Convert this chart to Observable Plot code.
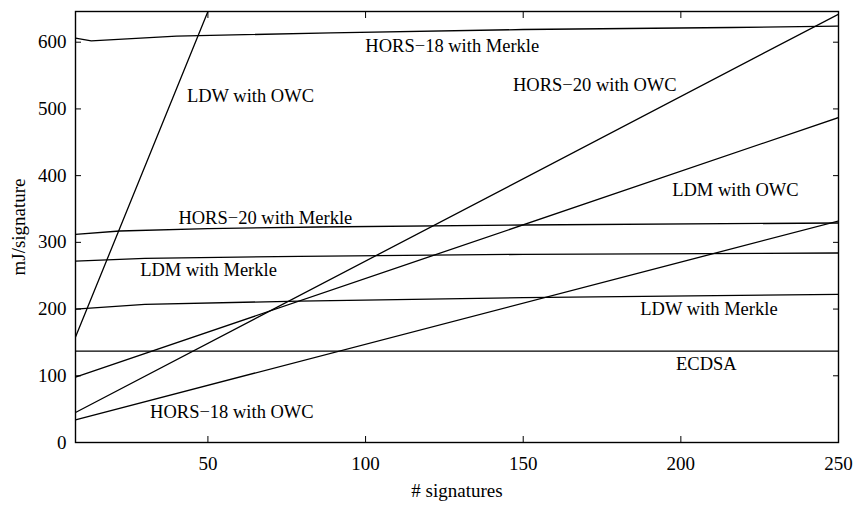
<!DOCTYPE html>
<html><head><meta charset="utf-8">
<script src="https://cdn.jsdelivr.net/npm/d3@7"></script>
<script src="https://cdn.jsdelivr.net/npm/@observablehq/plot@0.6"></script>
<style>body{margin:0;background:#fff} svg, svg text{font-family:"Liberation Serif",serif !important}</style>
</head><body><div id="chart"></div>
<script>
const xTicks = [50, 100, 150, 200, 250];
const yTicks = [0, 100, 200, 300, 400, 500, 600];

// series: [x, y] points
const hors18Merkle = [[8,606],[13,602],[40,609],[89,614],[150,619],[216,622],[250,624]];
const hors20Merkle = [[8,312],[22,317],[50,320.5],[85,323],[150,326],[250,329]];
const ldmMerkle    = [[8,272],[30,276],[79,279],[150,282],[250,284]];
const ldwMerkle    = [[8,200],[30,207],[79,212],[150,217],[250,222]];
const ecdsa        = [[8,137],[250,137]];
const ldwOwc       = [[8,158],[50,646]];
const hors20Owc    = [[8,45],[250,642]];
const ldmOwc       = [[8,98],[250,487]];
const hors18Owc    = [[8,34],[250,332]];

const seriesNames = ["HORS-18 with Merkle","HORS-20 with Merkle","LDM with Merkle","LDW with Merkle","ECDSA","LDW with OWC","HORS-20 with OWC","LDM with OWC","HORS-18 with OWC"];
const seriesData = [hors18Merkle,hors20Merkle,ldmMerkle,ldwMerkle,ecdsa,ldwOwc,hors20Owc,ldmOwc,hors18Owc];

const labelText = ["HORS\u221218 with Merkle","LDW with OWC","HORS\u221220 with OWC","LDM with OWC","HORS\u221220 with Merkle","LDM with Merkle","LDW with Merkle","ECDSA","HORS\u221218 with OWC"];
const labelX = [127.5, 63.5, 172.7, 217.3, 68.2, 50.2, 208.9, 208.1, 57.6];
const labelY = [594, 519, 535.5, 378, 337, 258, 200.5, 118, 45.5];

const rows = [];
seriesData.forEach((pts, i) => pts.forEach(([x, y]) => rows.push({series: seriesNames[i], x, y})));
const labels = labelText.map((text, i) => ({text, x: labelX[i], y: labelY[i]}));

const font = {fontFamily: "Liberation Serif", fontSize: 19};
const blank = () => "";
const chart = Plot.plot({
  width: 858, height: 505,
  marginLeft: 75, marginRight: 20, marginTop: 11, marginBottom: 63,
  style: {fontFamily: "'Liberation Serif', serif", fontSize: "19px", background: "#fff", color: "#000"},
  x: {domain: [8, 250]},
  y: {domain: [0, 646]},
  marks: [
    Plot.axisX(xTicks, {anchor: "bottom", tickSize: 0, tickPadding: 14, label: "# signatures", labelAnchor: "center", labelOffset: 54, labelArrow: false, ...font}),
    Plot.axisX(xTicks, {anchor: "bottom", tickSize: -6, tickFormat: blank, label: null}),
    Plot.axisX(xTicks, {anchor: "top", tickSize: -6, tickFormat: blank, label: null}),
    Plot.axisY(yTicks, {anchor: "left", tickSize: 0, tickPadding: 9, label: "mJ/signature", labelAnchor: "center", labelOffset: 64, labelArrow: false, ...font}),
    Plot.axisY(yTicks, {anchor: "left", tickSize: -6, tickFormat: blank, label: null}),
    Plot.axisY(yTicks, {anchor: "right", tickSize: -6, tickFormat: blank, label: null}),
    Plot.line(rows, {x: "x", y: "y", z: "series", curve: "linear", stroke: "#000", strokeWidth: 1.3, clip: true}),
    Plot.text(labels, {x: "x", y: "y", text: "text", fontSize: 18.5, fontFamily: "Liberation Serif", fill: "#000"}),
    Plot.frame({stroke: "#000", strokeWidth: 1.4})
  ]
});
document.getElementById("chart").appendChild(chart);
</script>
</body></html>
